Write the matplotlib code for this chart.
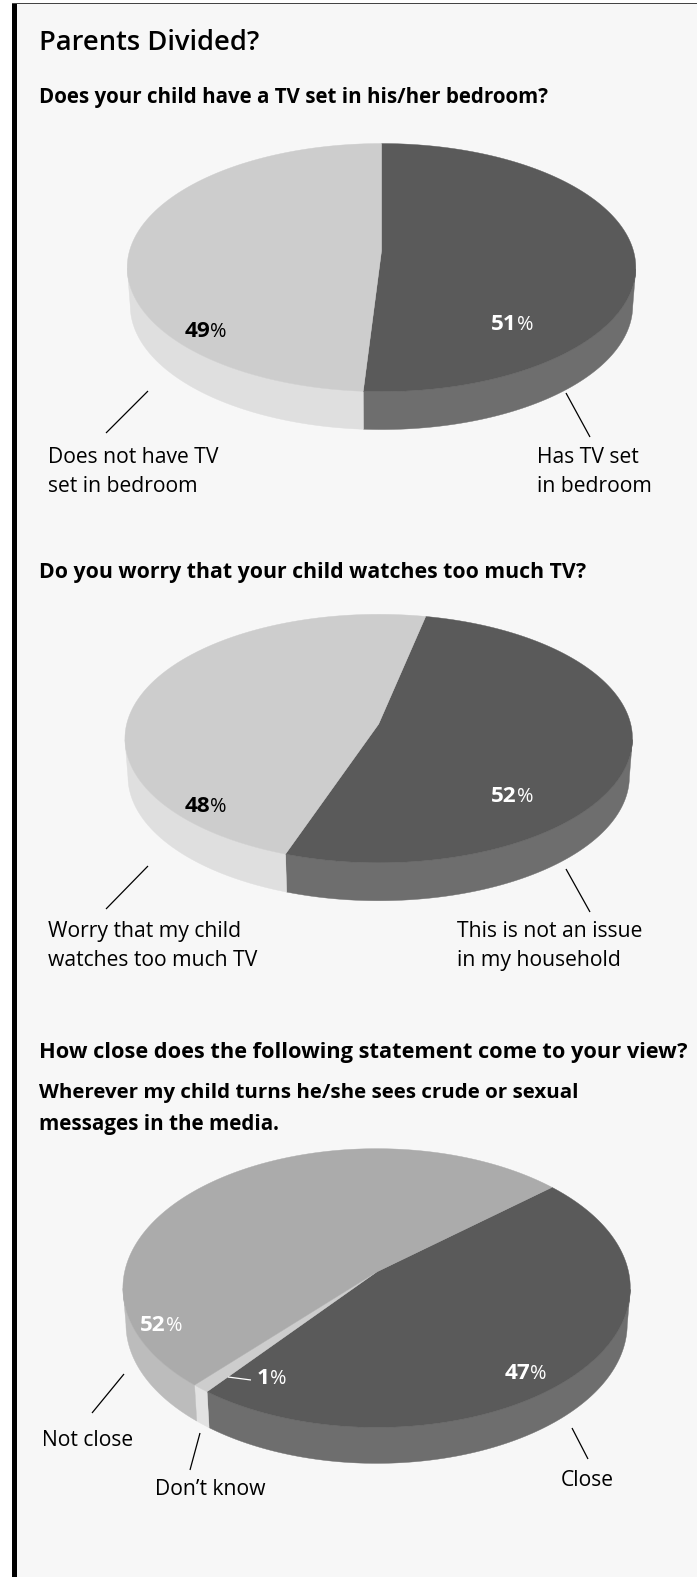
import numpy as np
import matplotlib
matplotlib.use("Agg")
import matplotlib.pyplot as plt
from matplotlib.patches import Polygon, Rectangle

plt.rcParams['font.family'] = ['Open Sans', 'DejaVu Sans']

W, H = 697, 1577
BG = "#f7f7f7"

title = "Parents Divided?"

# first pie, clockwise from 12 o'clock
tv_values = [51, 49]
tv_top = ["#5a5a5a", "#cdcdcd"]
tv_side = ["#6e6e6e", "#dfdfdf"]

# second pie
worry_values = [52, 48]
worry_top = ["#5a5a5a", "#cdcdcd"]
worry_side = ["#6e6e6e", "#dfdfdf"]

# third pie: close, don't know, not close
media_values = [47, 1, 52]
media_top = ["#5a5a5a", "#cdcdcd", "#ababab"]
media_side = ["#6e6e6e", "#e2e2e2", "#bcbcbc"]


def rim(theta, cx, cy, rx, b, k):
    # tilted circle seen in perspective, theta clockwise from the far side
    s, c = np.sin(theta), np.cos(theta)
    w = 1 + k * c
    return cx + rx * s / w, cy - b * c / w


def pie3d(ax, values, tops, sides, start, cx, cy, rx, b, k, depth):
    edges = start + np.cumsum([0] + list(values)) * 3.6
    wedges = []
    for i in range(len(values)):
        th = np.radians(np.linspace(edges[i], edges[i + 1], 300))
        x, y = rim(th, cx, cy, rx, b, k)
        wedges.append((x, y))
        # only the front of the rim shows a side wall
        front = np.cos(th) <= -k
        if front.any():
            xf, yf = x[front], y[front]
            # lower rim sits a little narrower than the top face
            x2 = cx + (xf - cx) * 0.988
            y2 = yf + depth
            pts = np.r_[np.c_[xf, yf], np.c_[x2, y2][::-1]]
            ax.add_patch(Polygon(pts, closed=True, fc=sides[i], ec=sides[i], lw=0.3, zorder=2))
    for i, (x, y) in enumerate(wedges):
        pts = np.r_[[[cx, cy]], np.c_[x, y]]
        ax.add_patch(Polygon(pts, closed=True, fc=tops[i], ec=tops[i], lw=0.3, zorder=3))


def pct(ax, value, x, y, color):
    # bold number, regular percent sign
    ax.text(x, y, str(value), ha="right", va="baseline", fontsize=16.2, fontweight="bold", color=color, zorder=5)
    ax.text(x, y, "%", ha="left", va="baseline", fontsize=14.3, color=color, zorder=5)


def leader(ax, x1, y1, x2, y2, color="black"):
    ax.plot([x1, x2], [y1, y2], color=color, lw=0.9, zorder=4, solid_capstyle="butt")


fig = plt.figure(figsize=(W / 100, H / 100), dpi=100, facecolor="white")
ax = fig.add_axes([0, 0, 1, 1])
ax.set_xlim(0, W)
ax.set_ylim(H, 0)
ax.axis("off")

# page panel with heavy left rule
ax.add_patch(Rectangle((12, 3), W - 12, H - 3, fc=BG, ec="none", zorder=0))
ax.add_patch(Rectangle((12, 3), 5, H - 3, fc="black", ec="none", zorder=1))
ax.add_patch(Rectangle((12, 3), W - 12, 1, fc="#444444", ec="none", zorder=1))

ax.text(39, 50, title, fontsize=19.7, fontweight="semibold", va="baseline")

questions = [
    (103, 14.8, "Does your child have a TV set in his/her bedroom?"),
    (578, 15.35, "Do you worry that your child watches too much TV?"),
    (1058, 15.7, "How close does the following statement come to your view?"),
    (1098, 14.75, "Wherever my child turns he/she sees crude or sexual"),
    (1130, 14.85, "messages in the media."),
]
for y, size, s in questions:
    ax.text(39, y, s, fontsize=size, fontweight="bold", va="baseline")

pie3d(ax, tv_values, tv_top, tv_side, 0, 381.5, 251, 252, 121.8, 0.1335, 38)
pie3d(ax, worry_values, worry_top, worry_side, 12, 378.7, 724, 252, 122.5, 0.117, 38)
pie3d(ax, media_values, media_top, media_side, 48.5, 376.6, 1272, 252, 137.5, 0.115, 36)

pct(ax, tv_values[0], 517, 330, "white")
pct(ax, tv_values[1], 210, 337, "black")
pct(ax, worry_values[0], 517, 802, "white")
pct(ax, worry_values[1], 210, 812, "black")
pct(ax, media_values[0], 530, 1379, "white")
pct(ax, media_values[1], 270, 1384, "white")
pct(ax, media_values[2], 166, 1331, "white")

leader(ax, 148, 391, 106, 433)
leader(ax, 566, 393, 590, 437)
leader(ax, 148, 866, 106, 909)
leader(ax, 566, 869, 590, 912)
leader(ax, 124, 1374, 92, 1413)
leader(ax, 200, 1433, 190, 1470)
leader(ax, 572, 1428, 588, 1459)
leader(ax, 228, 1377, 251, 1380, color="white")

csize = 15.2
captions = [
    (48, 463, "Does not have TV"),
    (48, 492, "set in bedroom"),
    (537, 463, "Has TV set"),
    (537, 492, "in bedroom"),
    (48, 937, "Worry that my child"),
    (48, 966, "watches too much TV"),
    (457, 937, "This is not an issue"),
    (457, 966, "in my household"),
    (42, 1446, "Not close"),
    (155, 1495, "Don\u2019t know"),
    (561, 1486, "Close"),
]
for x, y, s in captions:
    ax.text(x, y, s, fontsize=csize, va="baseline", zorder=5)

fig.savefig("out.png", dpi=100, facecolor="white")
